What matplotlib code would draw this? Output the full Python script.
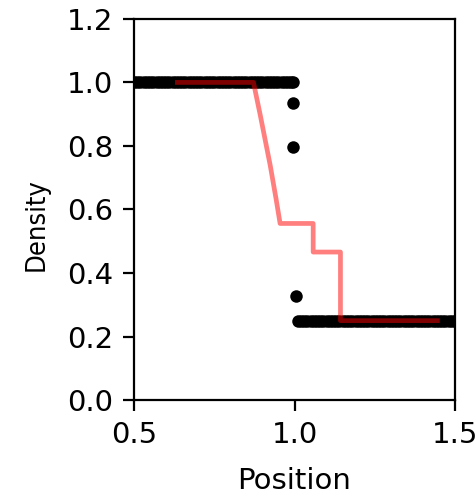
import matplotlib
matplotlib.use("Agg")
import matplotlib.pyplot as plt

# Particle data (SPH-like shock tube): positions and densities
left_x = [0.48, 0.49, 0.50, 0.51, 0.52, 0.53, 0.54, 0.55, 0.56, 0.57, 0.58,
          0.59, 0.60, 0.61, 0.62, 0.63, 0.64, 0.65, 0.66, 0.67, 0.68, 0.69,
          0.70, 0.71, 0.72, 0.73, 0.74, 0.75, 0.76, 0.77, 0.78, 0.79, 0.80,
          0.81, 0.82, 0.83, 0.84, 0.85, 0.86, 0.87, 0.88, 0.89, 0.90, 0.91,
          0.92, 0.93, 0.94, 0.95, 0.96, 0.97, 0.98, 0.99, 0.995]
left_rho = [1.0] * len(left_x)
trans_x = [0.996, 0.996, 1.005]
trans_rho = [0.935, 0.798, 0.329]
right_x = [1.01, 1.02, 1.03, 1.04, 1.05, 1.06, 1.07, 1.08, 1.09, 1.10, 1.11,
           1.12, 1.13, 1.14, 1.15, 1.16, 1.17, 1.18, 1.19, 1.20, 1.21, 1.22,
           1.23, 1.24, 1.25, 1.26, 1.27, 1.28, 1.29, 1.30, 1.31, 1.32, 1.33,
           1.34, 1.35, 1.36, 1.37, 1.38, 1.39, 1.40, 1.41, 1.42, 1.43, 1.44,
           1.45, 1.46, 1.47, 1.48, 1.49, 1.50, 1.51, 1.52, 1.53]
right_rho = [0.25] * len(right_x)

# Analytic solution
exact_x = [0.635, 0.872, 0.893, 0.924, 0.942, 0.955, 1.058, 1.058, 1.143, 1.143, 1.445]
exact_rho = [1.0, 1.0, 0.898, 0.740, 0.636, 0.556, 0.556, 0.466, 0.466, 0.25, 0.25]

xticks = [0.5, 1.0, 1.5]
yticks = [0.0, 0.2, 0.4, 0.6, 0.8, 1.0, 1.2]

plt.rcParams['font.family'] = ['DejaVu Sans']
fig = plt.figure(figsize=(4.77, 4.97), dpi=100)
ax = fig.add_axes([0.281, 0.195, 0.673, 0.767])

px = left_x + trans_x + right_x
py = left_rho + trans_rho + right_rho
ax.plot(px, py, 'o', color='black', markersize=9, markeredgewidth=0, linestyle='none')
ax.plot(exact_x, exact_rho, color='red', alpha=0.5, linewidth=3.4)

ax.set_xlim(0.5, 1.5)
ax.set_ylim(0.0, 1.2)
ax.set_xticks(xticks)
ax.set_yticks(yticks)
ax.set_xticklabels([f"{v:.1f}" for v in xticks])
ax.set_yticklabels([f"{v:.1f}" for v in yticks])
ax.tick_params(labelsize=21, length=8, width=1.6, pad=7)
for s in ax.spines.values():
    s.set_linewidth(1.6)
ax.set_xlabel("Position", fontsize=21, labelpad=13)
ax.set_ylabel("Density", fontsize=19.5, fontstretch='condensed')
ax.yaxis.set_label_coords(-0.262, 0.46)

fig.savefig("out.png", dpi=100)
